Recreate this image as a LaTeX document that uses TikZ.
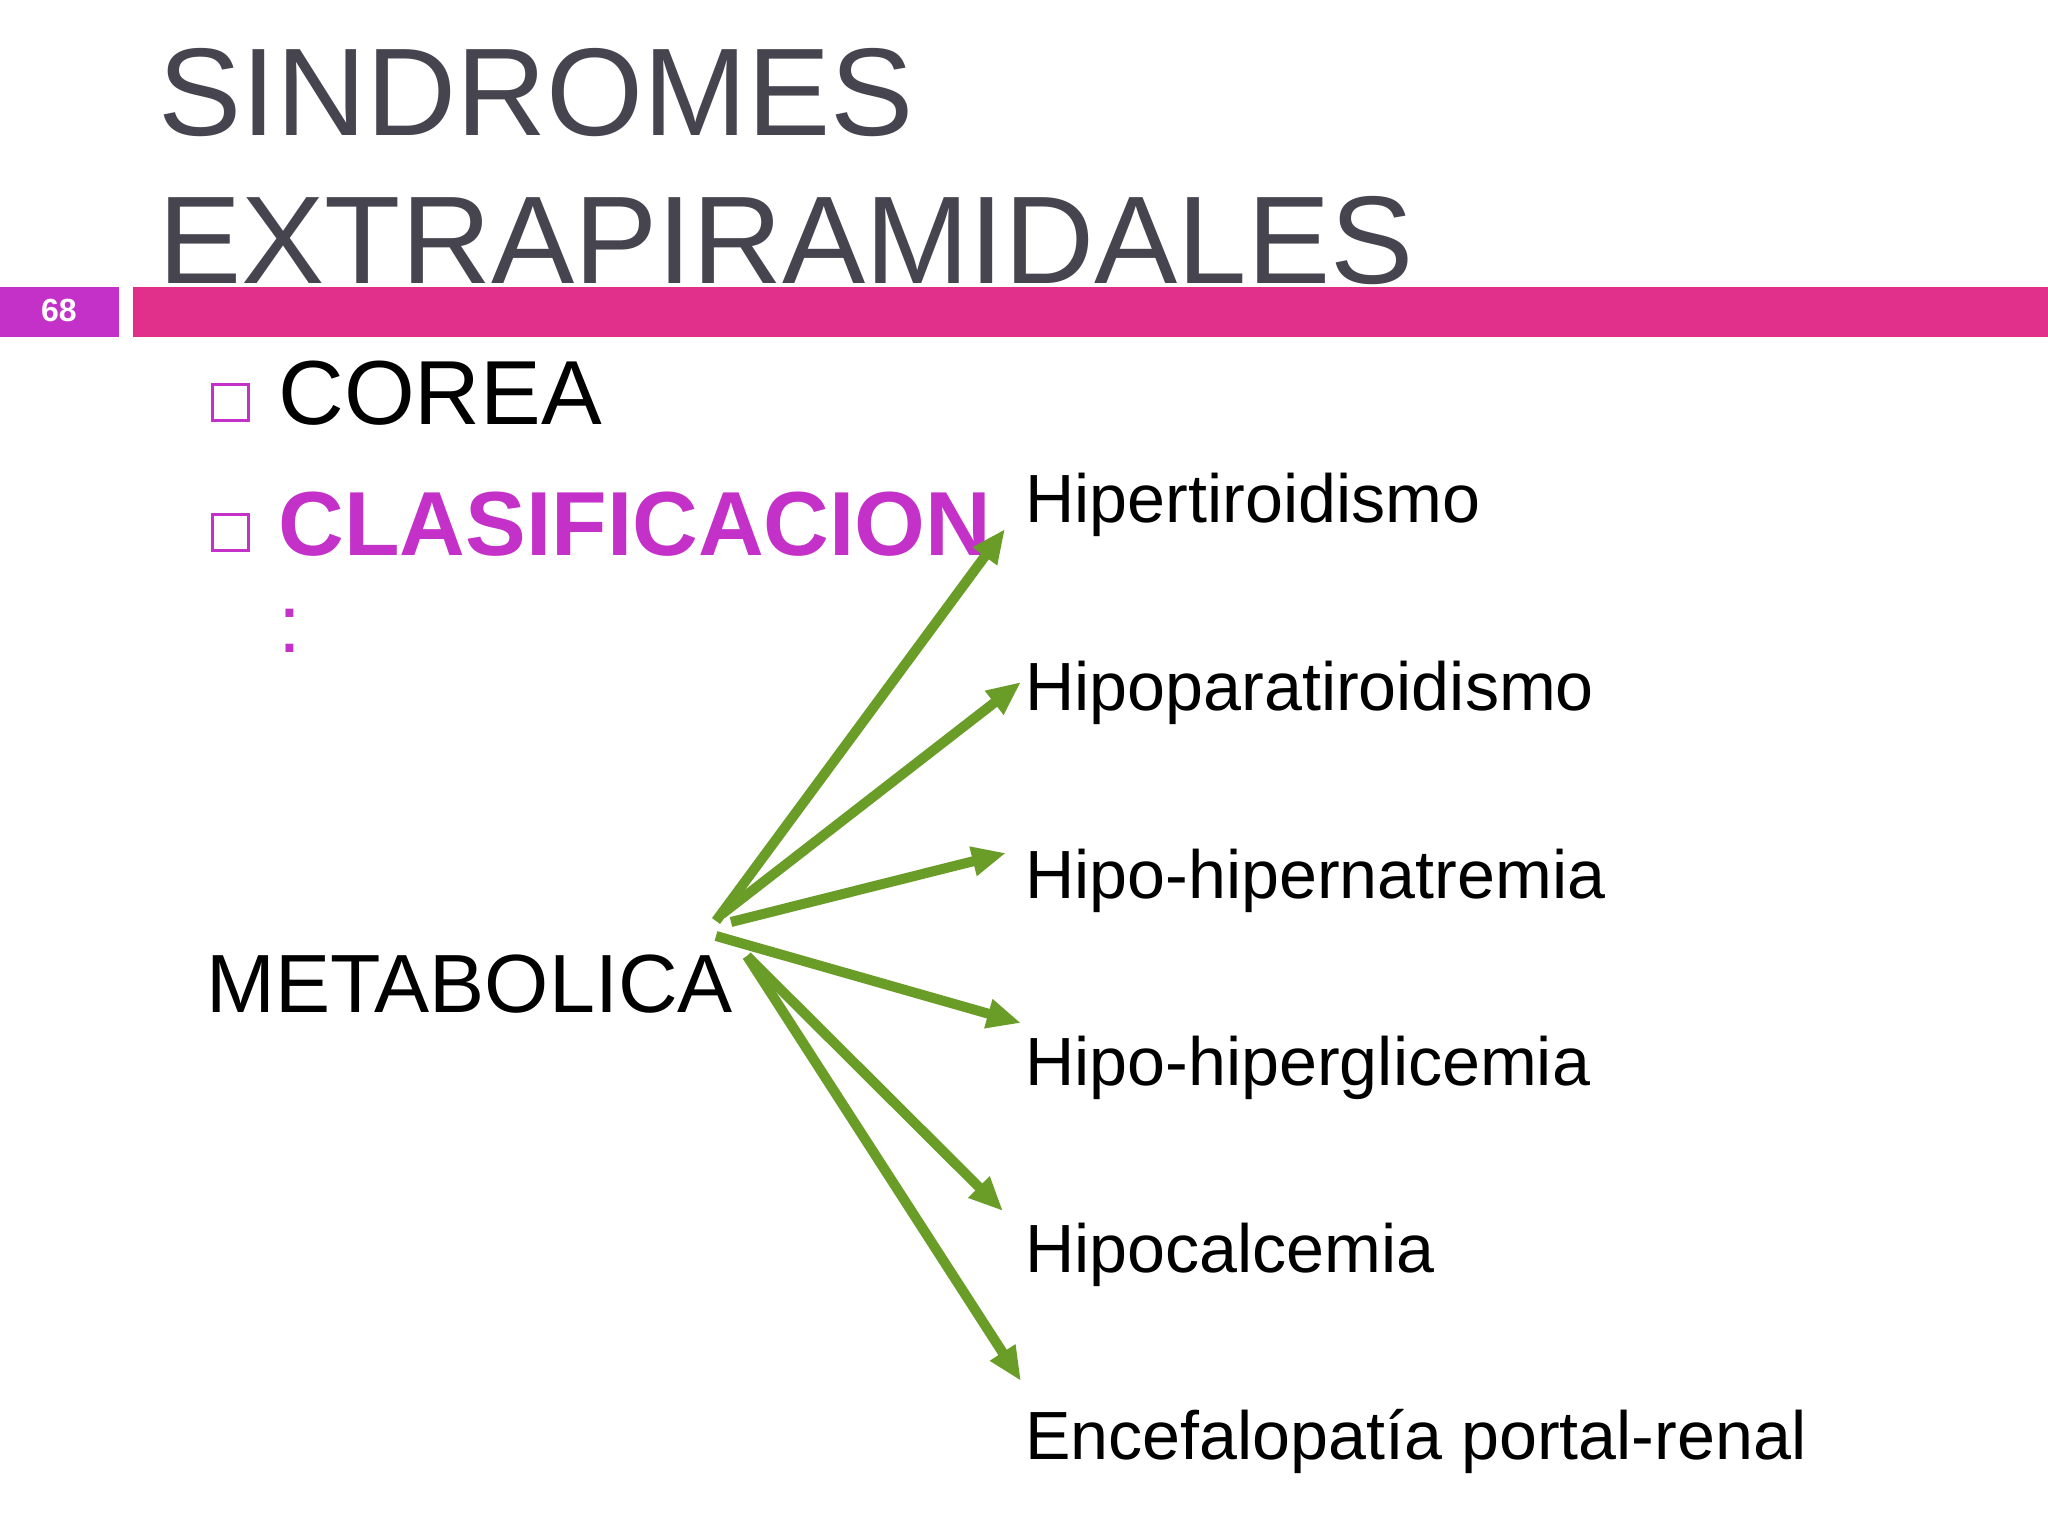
\documentclass[tikz,border=0pt]{standalone}
\usepackage{fontspec}
\setmainfont{Liberation Sans}
\usetikzlibrary{arrows.meta}
\definecolor{titlegray}{HTML}{46454F}
\definecolor{purp}{HTML}{C431C8}
\definecolor{mag}{HTML}{E0308C}
\definecolor{grn}{HTML}{6A9D27}
\tikzset{
  titletext/.style={anchor=base west,inner sep=0pt,text=titlegray,font=\fontsize{62.4}{70}\selectfont},
  bullettext/.style={anchor=base west,inner sep=0pt,font=\fontsize{45.5}{50}\selectfont},
  labeltext/.style={anchor=base west,inner sep=0pt,font=\fontsize{34.1}{40}\selectfont},
  sqbullet/.style={draw=purp,line width=1.5pt,minimum size=18pt,inner sep=0pt},
  garrow/.style={draw=grn,line width=5pt,-{Triangle[length=17pt,width=14pt]}}
}
\begin{document}
\begin{tikzpicture}[x=0.5pt,y=-0.5pt]
\useasboundingbox (0,0) rectangle (2048,1536);
\fill[white] (0,0) rectangle (2048,1536);
% title
\node[titletext] (t1) at (158,135) {SINDROMES};
\node[titletext] (t2) at (158,283) {EXTRAPIRAMIDALES};
% bar
\fill[purp] (0,287) rectangle (119,337);
\node[text=white,font=\bfseries\fontsize{16}{18}\selectfont,inner sep=0pt] (num) at (59,310) {68};
\fill[mag] (133,287) rectangle (2048,337);
% bullets
\node[sqbullet] (b1) at (230.5,402.5) {};
\node[bullettext] (corea) at (278,424) {COREA};
\node[sqbullet] (b2) at (230.5,532.5) {};
\node[bullettext,text=purp,font=\bfseries\fontsize{45.5}{50}\selectfont] (clas) at (278,555) {CLASIFICACION};
\node[anchor=base west,inner sep=0pt,text=purp,font=\fontsize{41}{46}\selectfont] (colon) at (278,652) {:};
% metabolica
\node[anchor=base west,inner sep=0pt,font=\fontsize{41.3}{46}\selectfont] (meta) at (206,1012) {METABOLICA};
% labels
\node[labeltext] (l1) at (1025,522) {Hipertiroidismo};
\node[labeltext] (l2) at (1025,710) {Hipoparatiroidismo};
\node[labeltext] (l3) at (1025,898) {Hipo-hipernatremia};
\node[labeltext] (l4) at (1025,1085) {Hipo-hiperglicemia};
\node[labeltext] (l5) at (1025,1272) {Hipocalcemia};
\node[labeltext] (l6) at (1025,1459) {Encefalopatía portal-renal};
% arrow endpoints
\coordinate (s1) at (716,921);
\coordinate (e1) at (1005,529);
\coordinate (s2) at (722,914);
\coordinate (e2) at (1021,682);
\coordinate (s3) at (731,922);
\coordinate (e3) at (1006,853);
\coordinate (s4) at (716,936);
\coordinate (e4) at (1021,1023);
\coordinate (s5) at (747,956);
\coordinate (e5) at (1003,1211);
\coordinate (s6) at (747,956);
\coordinate (e6) at (1021,1381);
\draw[garrow] (s1) -- (e1);
\draw[garrow] (s2) -- (e2);
\draw[garrow] (s3) -- (e3);
\draw[garrow] (s4) -- (e4);
\draw[garrow] (s5) -- (e5);
\draw[garrow] (s6) -- (e6);
\end{tikzpicture}
\end{document}
